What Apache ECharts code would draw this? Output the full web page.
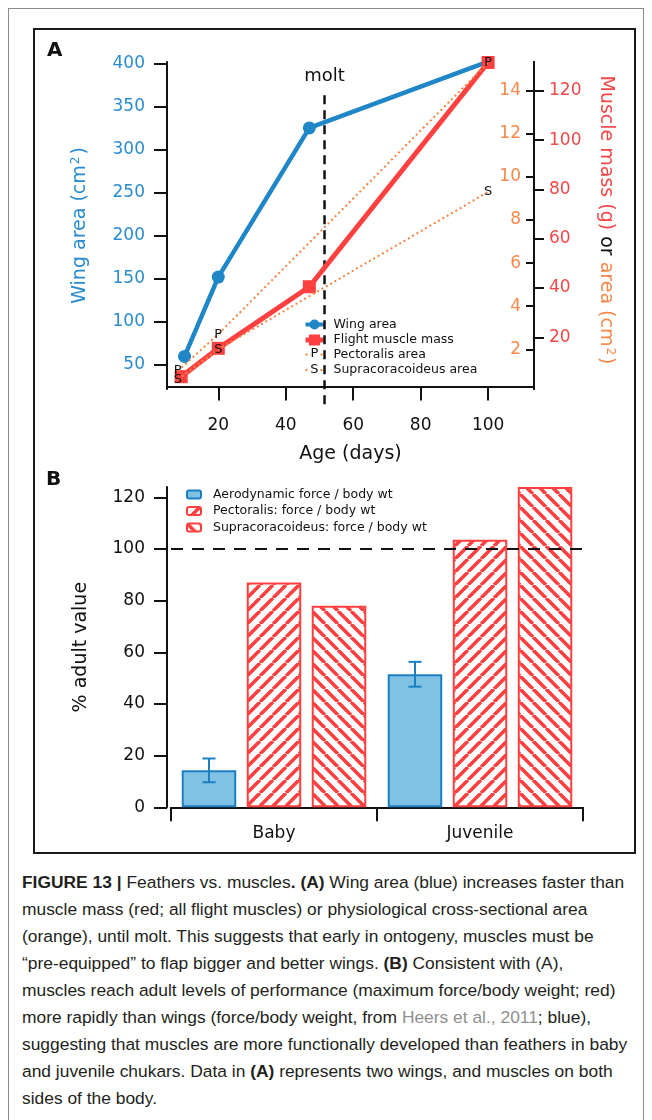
<!DOCTYPE html>
<html>
<head>
<meta charset="utf-8">
<script src="https://cdn.jsdelivr.net/npm/echarts@6/dist/echarts.min.js"></script>
<style>
  html, body { margin: 0; padding: 0; background: #fff; }
  #page { position: relative; width: 652px; height: 1120px; overflow: hidden; }
  #frame { position: absolute; left: 8px; top: 8px; width: 636px; height: 1130px; border: 1px solid #8c8c8c; box-sizing: border-box; }
  #chart { position: absolute; left: 0; top: 0; width: 652px; height: 860px; }
  #caption { position: absolute; left: 22px; top: 869px; width: 628px;
    font-family: "Liberation Sans", Arial, sans-serif; font-size: 17.4px; color: #231f20; }
  #caption .ln { white-space: nowrap; height: 27px; line-height: 27px; }
  #caption .ref { color: #8f8f8f; }
</style>
</head>
<body>
<div id="page">
  <div id="frame"></div>
  <div id="chart"></div>
  <div id="caption">
    <div class="ln"><b>FIGURE 13 |</b> Feathers vs. muscles<b>. (A)</b> Wing area (blue) increases faster than</div>
    <div class="ln">muscle mass (red; all flight muscles) or physiological cross-sectional area</div>
    <div class="ln">(orange), until molt. This suggests that early in ontogeny, muscles must be</div>
    <div class="ln">“pre-equipped” to flap bigger and better wings. <b>(B)</b> Consistent with (A),</div>
    <div class="ln">muscles reach adult levels of performance (maximum force/body weight; red)</div>
    <div class="ln">more rapidly than wings (force/body weight, from <span class="ref">Heers et al., 2011</span>; blue),</div>
    <div class="ln">suggesting that muscles are more functionally developed than feathers in baby</div>
    <div class="ln">and juvenile chukars. Data in <b>(A)</b> represents two wings, and muscles on both</div>
    <div class="ln">sides of the body.</div>
  </div>
</div>
<script>
// ---- Panel A: growth with age ----
const ageWing = [10, 20, 47, 100];
const wingArea = [60, 152, 325, 402];
const ageMuscle = [9, 20, 47, 100];
const muscleMass = [4, 15.5, 40.5, 131.5];
const ageArea = [8, 20, 100];
const pectoralisArea = [1.0, 2.7, 15.3];
const supracoracoideusArea = [0.6, 2.0, 9.3];
const moltAge = 51.5;
const ageTicks = [20, 40, 60, 80, 100];
const wingTicks = [50, 100, 150, 200, 250, 300, 350, 400];
const areaTicks = [2, 4, 6, 8, 10, 12, 14];
const massTicks = [20, 40, 60, 80, 100, 120];

// ---- Panel B: percent of adult value ----
const stages = ['Baby', 'Juvenile'];
const aeroForce = [14.3, 51.5];
const aeroErr = [4.6, 4.8];
const pectoralisForce = [87, 103.6];
const supracoracoideusForce = [78, 124];
const pctTicks = [0, 20, 40, 60, 80, 100, 120];
const adultLevel = 100;

const FONT = '"DejaVu Sans", "Noto Sans", sans-serif';
const BLUE = '#1f86c8', BLUE_TXT = '#2a8ccf', BAR_BLUE = '#7fc2e3';
const RED = '#ff4040', RED_TXT = '#f24848';
const ORANGE = '#f5833f', ORANGE_TXT = '#f5894a';
const INK = '#111';

const zip = (xs, ys) => xs.map((x, i) => [x, ys[i]]);

// diagonal hatch used to fill the muscle-force bars
function hatch(dir) {
  const s = 13, c = document.createElement('canvas');
  c.width = s; c.height = s;
  const g = c.getContext('2d');
  g.fillStyle = '#fff'; g.fillRect(0, 0, s, s);
  g.strokeStyle = RED; g.lineWidth = 3.6;
  g.beginPath();
  for (let k = -1; k <= 1; k++) {
    if (dir > 0) { g.moveTo(k * s, s); g.lineTo(k * s + s, 0); }
    else { g.moveTo(k * s, 0); g.lineTo(k * s + s, s); }
  }
  g.stroke();
  return { image: c, repeat: 'repeat' };
}

const BAR_W = 54.5, BAR_GAP = 10.5;

const axisLineBlack = { show: true, lineStyle: { color: INK, width: 2 } };

const chart = echarts.init(document.getElementById('chart'), null, { renderer: 'canvas' });

const option = {
  animation: false,
  textStyle: { fontFamily: FONT },
  grid: [
    { left: 167, right: 118, top: 62, bottom: 471 },
    { left: 171, right: 69, top: 487, bottom: 52.7 }
  ],
  xAxis: [
    {
      gridIndex: 0, type: 'value', min: 4.8, max: 113.6,
      axisLine: axisLineBlack,
      axisTick: { show: true, customValues: ageTicks, length: 14, lineStyle: { width: 2, color: INK } },
      axisLabel: { customValues: ageTicks, fontSize: 17, color: INK, margin: 28, fontFamily: FONT },
      splitLine: { show: false },
      name: 'Age (days)', nameLocation: 'middle', nameGap: 56,
      nameTextStyle: { fontSize: 19, color: INK, fontFamily: FONT }
    },
    {
      gridIndex: 1, type: 'category', data: stages, offset: 3,
      axisLine: axisLineBlack,
      axisTick: { show: true, length: 14, lineStyle: { width: 2, color: INK } },
      axisLabel: { fontSize: 17, color: INK, margin: 15, fontFamily: FONT },
      splitLine: { show: false }
    }
  ],
  yAxis: [
    {
      gridIndex: 0, type: 'value', position: 'left', min: 22.2, max: 401.5,
      axisLine: axisLineBlack,
      axisTick: { show: true, customValues: wingTicks, length: 13, lineStyle: { width: 2, color: INK } },
      axisLabel: { customValues: wingTicks, fontSize: 17, color: BLUE_TXT, margin: 22, fontFamily: FONT },
      splitLine: { show: false },
      name: '{t|Wing area (cm}{s|2}{t|)}', nameLocation: 'middle', nameGap: 76, nameRotate: 90,
      nameTextStyle: {
        rich: {
          t: { fontSize: 19, color: BLUE_TXT, fontFamily: FONT },
          s: { fontSize: 12, color: BLUE_TXT, fontFamily: FONT, verticalAlign: 'top', padding: [0, 2, 9, 1] }
        }
      }
    },
    {
      gridIndex: 0, type: 'value', position: 'right', min: 0.16, max: 15.33,
      axisLine: axisLineBlack,
      axisTick: { show: true, inside: true, customValues: areaTicks, length: 8, lineStyle: { width: 2, color: INK } },
      axisLabel: { inside: true, customValues: areaTicks, fontSize: 17, color: ORANGE_TXT, margin: 13, fontFamily: FONT },
      splitLine: { show: false }
    },
    {
      gridIndex: 0, type: 'value', position: 'right', min: -1, max: 131.7,
      axisLine: axisLineBlack,
      axisTick: { show: true, customValues: massTicks, length: 10, lineStyle: { width: 2, color: INK } },
      axisLabel: { customValues: massTicks, fontSize: 17, color: RED_TXT, margin: 15, fontFamily: FONT },
      splitLine: { show: false }
    },
    {
      gridIndex: 1, type: 'value', min: 0, max: 124, offset: 4,
      axisLine: axisLineBlack,
      axisTick: { show: true, customValues: pctTicks, length: 13, lineStyle: { width: 2, color: INK } },
      axisLabel: { customValues: pctTicks, fontSize: 17, color: INK, margin: 22, fontFamily: FONT },
      splitLine: { show: false },
      name: '% adult value', nameLocation: 'middle', nameGap: 76, nameRotate: 90,
      nameTextStyle: { fontSize: 19, color: INK, fontFamily: FONT }
    }
  ],
  legend: {
    data: ['Aerodynamic force / body wt', 'Pectoralis: force / body wt', 'Supracoracoideus: force / body wt'],
    orient: 'vertical', left: 181, top: 483, itemWidth: 14, itemHeight: 8, itemGap: 3.5,
    selectedMode: false,
    textStyle: { fontSize: 12.5, color: INK, fontFamily: FONT, padding: [0, 0, 0, 7] }
  },
  series: [
    {
      name: 'molt', type: 'line', xAxisIndex: 0, yAxisIndex: 0, clip: false, silent: true,
      data: [
        { value: [moltAge, 363], label: { show: true, position: 'top', distance: 9, formatter: 'molt', fontSize: 18, color: INK, fontFamily: FONT } },
        [moltAge, 3]
      ],
      symbol: 'circle', symbolSize: 1, itemStyle: { color: 'transparent' },
      lineStyle: { color: INK, width: 2.5, type: [9, 6] }, z: 1
    },
    {
      name: 'Wing area', type: 'line', xAxisIndex: 0, yAxisIndex: 0,
      data: zip(ageWing, wingArea),
      symbol: 'circle', symbolSize: 13,
      lineStyle: { color: BLUE, width: 4.5 }, itemStyle: { color: BLUE }, z: 3
    },
    {
      name: 'Flight muscle mass', type: 'line', xAxisIndex: 0, yAxisIndex: 2,
      data: zip(ageMuscle, muscleMass),
      symbol: 'rect', symbolSize: 13,
      lineStyle: { color: RED, width: 5 }, itemStyle: { color: RED }, z: 4
    },
    {
      name: 'Pectoralis area', type: 'line', xAxisIndex: 0, yAxisIndex: 1,
      data: zip(ageArea, pectoralisArea),
      symbol: 'circle', symbolSize: 1, itemStyle: { color: 'transparent' },
      label: { show: true, position: 'inside', formatter: 'P', fontSize: 13, color: INK, fontFamily: FONT },
      lineStyle: { color: ORANGE, width: 2, type: [2, 3] }, z: 5
    },
    {
      name: 'Supracoracoideus area', type: 'line', xAxisIndex: 0, yAxisIndex: 1,
      data: zip(ageArea, supracoracoideusArea),
      symbol: 'circle', symbolSize: 1, itemStyle: { color: 'transparent' },
      label: { show: true, position: 'inside', formatter: 'S', fontSize: 13, color: INK, fontFamily: FONT },
      lineStyle: { color: ORANGE, width: 2, type: [2, 3] }, z: 5
    },
    {
      name: 'adult level', type: 'line', xAxisIndex: 1, yAxisIndex: 3, data: [], z: 1,
      markLine: {
        silent: true, symbol: 'none', label: { show: false },
        lineStyle: { color: INK, width: 2, type: [12, 9] },
        data: [{ yAxis: adultLevel }]
      }
    },
    {
      name: 'Aerodynamic force / body wt', type: 'bar', xAxisIndex: 1, yAxisIndex: 3,
      data: aeroForce, barWidth: BAR_W, barGap: (BAR_GAP / BAR_W * 100).toFixed(1) + '%',
      itemStyle: { color: BAR_BLUE, borderColor: '#1b7fc3', borderWidth: 2 }, z: 2
    },
    {
      name: 'Pectoralis: force / body wt', type: 'bar', xAxisIndex: 1, yAxisIndex: 3,
      data: pectoralisForce, barWidth: BAR_W,
      itemStyle: { color: hatch(1), borderColor: RED, borderWidth: 2 }, z: 2
    },
    {
      name: 'Supracoracoideus: force / body wt', type: 'bar', xAxisIndex: 1, yAxisIndex: 3,
      data: supracoracoideusForce, barWidth: BAR_W,
      itemStyle: { color: hatch(-1), borderColor: RED, borderWidth: 2 }, z: 2
    },
    {
      name: 'error', type: 'custom', xAxisIndex: 1, yAxisIndex: 3, z: 5, silent: true,
      data: aeroForce.map((v, i) => [i, v - aeroErr[i], v + aeroErr[i]]),
      renderItem: function (params, api) {
        const lo = api.coord([api.value(0), api.value(1)]);
        const hi = api.coord([api.value(0), api.value(2)]);
        const x = lo[0] - (BAR_W + BAR_GAP);
        const cap = 6.5;
        const st = { stroke: '#1b7fc3', lineWidth: 2 };
        return {
          type: 'group',
          children: [
            { type: 'line', shape: { x1: x, y1: lo[1], x2: x, y2: hi[1] }, style: st },
            { type: 'line', shape: { x1: x - cap, y1: lo[1], x2: x + cap, y2: lo[1] }, style: st },
            { type: 'line', shape: { x1: x - cap, y1: hi[1], x2: x + cap, y2: hi[1] }, style: st }
          ]
        };
      }
    }
  ],
  graphic: [
    // panel frame
    { type: 'rect', shape: { x: 34, y: 29, width: 601, height: 824 }, style: { fill: 'none', stroke: '#1a1a1a', lineWidth: 2 }, z: 0 },
    { type: 'text', left: 47, top: 41, style: { text: 'A', font: 'bold 20px ' + FONT, fill: INK } },
    { type: 'text', left: 46, top: 470, style: { text: 'B', font: 'bold 20px ' + FONT, fill: INK } },
    // right-hand axis title in three colours
    {
      type: 'text', x: 606, y: 220, rotation: -Math.PI / 2,
      style: {
        text: '{r|Muscle mass (g)}{k| or }{o|area (cm}{s|2}{o|)}',
        align: 'center', verticalAlign: 'middle',
        rich: {
          r: { fontSize: 19, fill: RED_TXT, fontFamily: FONT },
          k: { fontSize: 19, fill: INK, fontFamily: FONT },
          o: { fontSize: 19, fill: ORANGE_TXT, fontFamily: FONT },
          s: { fontSize: 12, fill: ORANGE_TXT, fontFamily: FONT, verticalAlign: 'top', padding: [0, 2, 9, 1] }
        }
      }
    },
    // panel A key
    {
      type: 'group', left: 303, top: 318,
      children: [
        { type: 'line', shape: { x1: 0, y1: 7, x2: 18, y2: 7 }, style: { stroke: BLUE, lineWidth: 4 } },
        { type: 'circle', shape: { cx: 9, cy: 7, r: 5 }, style: { fill: BLUE } },
        { type: 'line', shape: { x1: 0, y1: 22.5, x2: 18, y2: 22.5 }, style: { stroke: RED, lineWidth: 5 } },
        { type: 'rect', shape: { x: 3.5, y: 17, width: 11, height: 11 }, style: { fill: RED } },
        { type: 'line', shape: { x1: 0, y1: 37, x2: 18, y2: 37 }, style: { stroke: ORANGE, lineWidth: 2, lineDash: [2, 3] } },
        { type: 'text', x: 9, y: 36, style: { text: 'P', align: 'center', verticalAlign: 'middle', font: '13px ' + FONT, fill: INK, backgroundColor: '#fff' } },
        { type: 'line', shape: { x1: 0, y1: 52.5, x2: 18, y2: 52.5 }, style: { stroke: ORANGE, lineWidth: 2, lineDash: [2, 3] } },
        { type: 'text', x: 9, y: 52, style: { text: 'S', align: 'center', verticalAlign: 'middle', font: '13px ' + FONT, fill: INK, backgroundColor: '#fff' } },
        { type: 'text', x: 28, y: 7, style: { text: 'Wing area', verticalAlign: 'middle', font: '12.5px ' + FONT, fill: INK } },
        { type: 'text', x: 28, y: 22.5, style: { text: 'Flight muscle mass', verticalAlign: 'middle', font: '12.5px ' + FONT, fill: INK } },
        { type: 'text', x: 28, y: 37, style: { text: 'Pectoralis area', verticalAlign: 'middle', font: '12.5px ' + FONT, fill: INK } },
        { type: 'text', x: 28, y: 52, style: { text: 'Supracoracoideus area', verticalAlign: 'middle', font: '12.5px ' + FONT, fill: INK } }
      ]
    }
  ]
};

chart.setOption(option);
</script>
</body>
</html>
